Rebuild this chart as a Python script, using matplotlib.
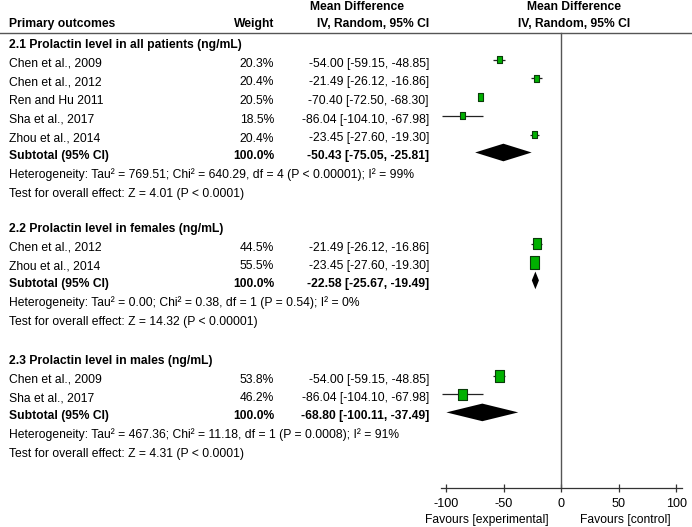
import matplotlib
matplotlib.use("Agg")
import matplotlib.pyplot as plt
from matplotlib.path import Path
import numpy as np

plt.rcParams['font.family'] = ['Liberation Sans', 'DejaVu Sans']

# ---- data ----
group_titles = ["2.1 Prolactin level in all patients (ng/mL)",
                "2.2 Prolactin level in females (ng/mL)",
                "2.3 Prolactin level in males (ng/mL)"]
g1_names = ["Chen et al., 2009", "Chen et al., 2012", "Ren and Hu 2011", "Sha et al., 2017", "Zhou et al., 2014"]
g1_weight = [20.3, 20.4, 20.5, 18.5, 20.4]
g1_md = [-54.00, -21.49, -70.40, -86.04, -23.45]
g1_lo = [-59.15, -26.12, -72.50, -104.10, -27.60]
g1_hi = [-48.85, -16.86, -68.30, -67.98, -19.30]

g2_names = ["Chen et al., 2012", "Zhou et al., 2014"]
g2_weight = [44.5, 55.5]
g2_md = [-21.49, -23.45]
g2_lo = [-26.12, -27.60]
g2_hi = [-16.86, -19.30]

g3_names = ["Chen et al., 2009", "Sha et al., 2017"]
g3_weight = [53.8, 46.2]
g3_md = [-54.00, -86.04]
g3_lo = [-59.15, -104.10]
g3_hi = [-48.85, -67.98]

sub_weight = [100.0, 100.0, 100.0]
sub_md = [-50.43, -22.58, -68.80]
sub_lo = [-75.05, -25.67, -100.11]
sub_hi = [-25.81, -19.49, -37.49]

heterogeneity = [
    "Heterogeneity: Tau\u00b2 = 769.51; Chi\u00b2 = 640.29, df = 4 (P < 0.00001); I\u00b2 = 99%",
    "Heterogeneity: Tau\u00b2 = 0.00; Chi\u00b2 = 0.38, df = 1 (P = 0.54); I\u00b2 = 0%",
    "Heterogeneity: Tau\u00b2 = 467.36; Chi\u00b2 = 11.18, df = 1 (P = 0.0008); I\u00b2 = 91%",
]
overall = [
    "Test for overall effect: Z = 4.01 (P < 0.0001)",
    "Test for overall effect: Z = 14.32 (P < 0.00001)",
    "Test for overall effect: Z = 4.31 (P < 0.0001)",
]
xticks = [-100, -50, 0, 50, 100]

groups = [
    (g1_names, g1_weight, g1_md, g1_lo, g1_hi),
    (g2_names, g2_weight, g2_md, g2_lo, g2_hi),
    (g3_names, g3_weight, g3_md, g3_lo, g3_hi),
]

# ---- layout (pixel rows) ----
W, H = 692, 527
fig = plt.figure(figsize=(W / 100, H / 100), dpi=100)
ax_t = fig.add_axes([0, 0, 1, 1])
ax_t.set_xlim(0, W)
ax_t.set_ylim(H, 0)
ax_t.axis('off')

FS = 8.7
x_name, x_w, x_ci = 9, 274, 429
zero_px, px_per_unit = 561.3, 1.148
fx0, fx1 = 430, 692
ax = fig.add_axes([fx0 / W, 0, (fx1 - fx0) / W, 1])
ax.set_xlim((fx0 - zero_px) / px_per_unit, (fx1 - zero_px) / px_per_unit)
ax.set_ylim(H, 0)
ax.patch.set_alpha(0)
for s in ['top', 'left', 'right']:
    ax.spines[s].set_visible(False)
ax.spines['bottom'].set_position(('data', 488))
ax.spines['bottom'].set_bounds(-105, 105)
ax.spines['bottom'].set_color('#333333')
ax.spines['bottom'].set_linewidth(0.9)
ax.set_yticks([])
ax.set_xticks(xticks)
ax.set_xticklabels([f"{t}" for t in xticks])
ax.tick_params(axis='x', direction='inout', length=6, width=0.9, color='#333333',
               labelsize=FS + 0.4, pad=4)

# headers
ax_t.text(357, 7, "Mean Difference", ha='center', va='center', fontsize=FS, fontweight='bold')
ax_t.text(x_name, 24, "Primary outcomes", ha='left', va='center', fontsize=FS, fontweight='bold')
ax_t.text(x_w, 24, "Weight", ha='right', va='center', fontsize=FS, fontweight='bold')
ax_t.text(373, 24, "IV, Random, 95% CI", ha='center', va='center', fontsize=FS, fontweight='bold')
ax_t.text(574, 7, "Mean Difference", ha='center', va='center', fontsize=FS, fontweight='bold')
ax_t.text(574, 24, "IV, Random, 95% CI", ha='center', va='center', fontsize=FS, fontweight='bold')
ax_t.plot([0, W], [32.5, 32.5], color='#555555', lw=1.0)

# zero line
ax.plot([0, 0], [32.5, 488], color='#555555', lw=1.0)

rect = Path([(-0.36, -0.5), (0.36, -0.5), (0.36, 0.5), (-0.36, 0.5), (-0.36, -0.5)],
            [Path.MOVETO, Path.LINETO, Path.LINETO, Path.LINETO, Path.CLOSEPOLY])

starts = [45, 229, 361]
row = 18.7
for gi, (names, wts, md, lo, hi) in enumerate(groups):
    y0 = starts[gi]
    ax_t.text(x_name, y0, group_titles[gi], ha='left', va='center', fontsize=FS, fontweight='bold')
    ys = []
    for k in range(len(names)):
        y = y0 + row * (k + 1)
        ys.append(y)
        ax_t.text(x_name, y, names[k], ha='left', va='center', fontsize=FS)
        ax_t.text(x_w, y, f"{wts[k]:.1f}%", ha='right', va='center', fontsize=FS)
        ax_t.text(x_ci, y, f"{md[k]:.2f} [{lo[k]:.2f}, {hi[k]:.2f}]", ha='right', va='center', fontsize=FS)
    ym = np.array(ys) - 4
    ax.hlines(ym, lo, hi, color='#222222', lw=0.9, zorder=2)
    hpx = 1.65 * np.sqrt(np.array(wts))
    ax.scatter(md, ym, s=(hpx * 0.72) ** 2, marker=rect, facecolor='#00b000',
               edgecolor='#0a3a0a', linewidth=0.8, zorder=3)
    ysub = ys[-1] + 17.5
    ax_t.text(x_name, ysub, "Subtotal (95% CI)", ha='left', va='center', fontsize=FS, fontweight='bold')
    ax_t.text(x_w, ysub, f"{sub_weight[gi]:.1f}%", ha='right', va='center', fontsize=FS, fontweight='bold')
    ax_t.text(x_ci, ysub, f"{sub_md[gi]:.2f} [{sub_lo[gi]:.2f}, {sub_hi[gi]:.2f}]",
              ha='right', va='center', fontsize=FS, fontweight='bold')
    yd = ysub - 3.5
    hd = 8.8
    ax.fill([sub_lo[gi], sub_md[gi], sub_hi[gi], sub_md[gi]],
            [yd, yd - hd, yd, yd + hd], color='black', lw=0, zorder=3)
    ax_t.text(x_name, ysub + 19, heterogeneity[gi], ha='left', va='center', fontsize=FS)
    ax_t.text(x_name, ysub + 38, overall[gi], ha='left', va='center', fontsize=FS)

ax_t.text(549, 520, "Favours [experimental]", ha='right', va='center', fontsize=FS)
ax_t.text(580, 520, "Favours [control]", ha='left', va='center', fontsize=FS)

fig.savefig("out.png", dpi=100)
